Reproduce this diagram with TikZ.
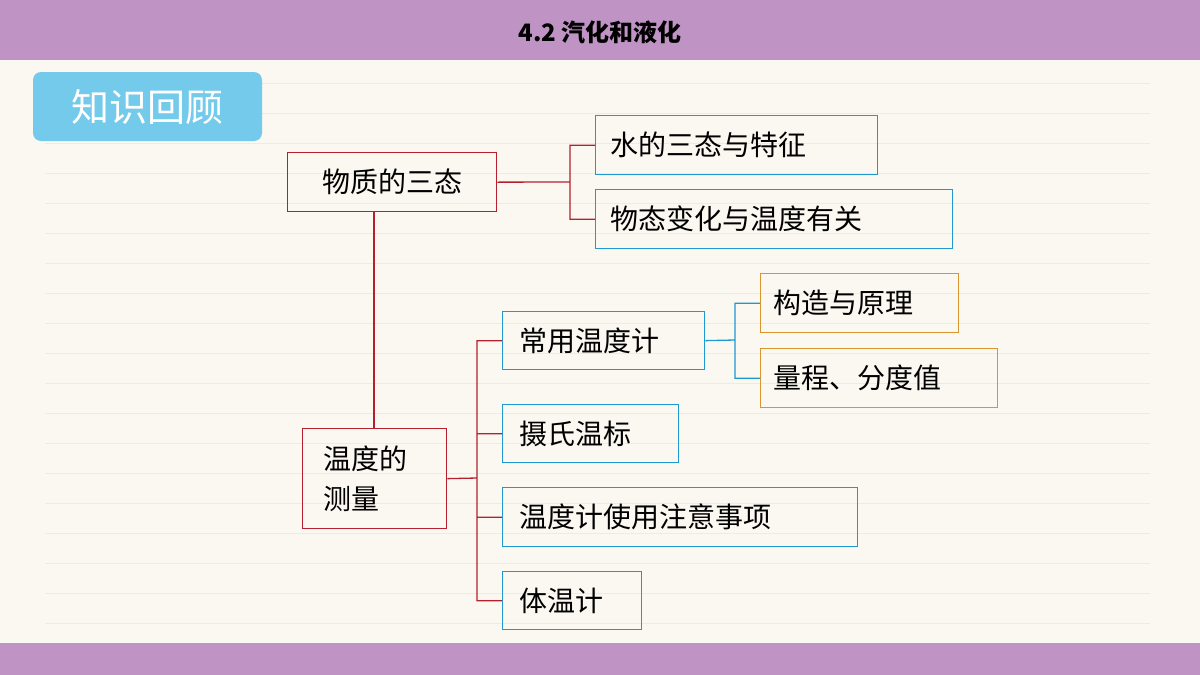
\documentclass[tikz,border=0pt]{standalone}
\usepackage{fontspec}
\newfontfamily\cjk{Noto Sans CJK SC}
\definecolor{bg}{HTML}{FBF8F1}
\definecolor{bar}{HTML}{C093C5}
\definecolor{rl}{HTML}{B5202E}
\definecolor{bl}{HTML}{1E9AD0}
\definecolor{ol}{HTML}{D9962E}
\definecolor{sky}{HTML}{74CAEA}
\tikzset{
 box/.style={draw,line width=1.3pt,inner sep=0pt,anchor=north west,font=\cjk\fontsize{28}{34}\selectfont,align=left},
 rbox/.style={box,draw=rl},
 bbox/.style={box,draw=bl},
 obox/.style={box,draw=ol},
}
\begin{document}
\begin{tikzpicture}[x=1pt,y=-1pt]
\useasboundingbox (0,0) rectangle (1200,675);
\fill[bg] (0,0) rectangle (1200,675);
\foreach \y in {83,113,...,633} \draw[black!8,line width=0.8pt] (45,\y) -- (1150,\y);
\fill[bar] (0,0) rectangle (1200,60);
\fill[bar] (0,643) rectangle (1200,675);
\node[font=\cjk\bfseries\fontsize{24}{28}\selectfont] (title) at (600,32) {4.2 汽化和液化};
\fill[sky,rounded corners=8pt] (33,72) rectangle (262,141);
\node[text=white,font=\cjk\fontsize{38}{44}\selectfont] (review) at (147.5,107) {知识回顾};
% nodes
\node[rbox,minimum width=209pt,minimum height=59pt] (a) at (287,152) {};
\node[font=\cjk\fontsize{28}{34}\selectfont] at (a.center) {物质的三态};
\node[bbox,minimum width=282pt,minimum height=59pt] (a1) at (595,115) {};
\node[font=\cjk\fontsize{28}{34}\selectfont,anchor=west] at ([xshift=12pt]a1.west) {水的三态与特征};
\node[bbox,minimum width=357pt,minimum height=59pt] (a2) at (595,189) {};
\node[font=\cjk\fontsize{28}{34}\selectfont,anchor=west] at ([xshift=12pt]a2.west) {物态变化与温度有关};
\node[rbox,minimum width=144pt,minimum height=100pt] (b) at (302,428) {};
\node[font=\cjk\fontsize{28}{40}\selectfont,align=left,anchor=west] at ([xshift=18pt]b.west) {温度的\\测量};
\node[bbox,minimum width=202pt,minimum height=58pt] (b1) at (502,311) {};
\node[font=\cjk\fontsize{28}{34}\selectfont,anchor=west] at ([xshift=14pt]b1.west) {常用温度计};
\node[bbox,minimum width=176pt,minimum height=58pt] (b2) at (502,404) {};
\node[font=\cjk\fontsize{28}{34}\selectfont,anchor=west] at ([xshift=14pt]b2.west) {摄氏温标};
\node[bbox,minimum width=355pt,minimum height=59pt] (b3) at (502,487) {};
\node[font=\cjk\fontsize{28}{34}\selectfont,anchor=west] at ([xshift=14pt]b3.west) {温度计使用注意事项};
\node[bbox,minimum width=139pt,minimum height=58pt] (b4) at (502,571) {};
\node[font=\cjk\fontsize{28}{34}\selectfont,anchor=west] at ([xshift=14pt]b4.west) {体温计};
\node[obox,minimum width=198pt,minimum height=59pt] (c1) at (760,273) {};
\node[font=\cjk\fontsize{28}{34}\selectfont,anchor=west] at ([xshift=10pt]c1.west) {构造与原理};
\node[obox,minimum width=237pt,minimum height=59pt] (c2) at (760,348) {};
\node[font=\cjk\fontsize{28}{34}\selectfont,anchor=west] at ([xshift=10pt]c2.west) {量程、分度值};
% connectors
\coordinate (ja) at (570,182);
\draw[rl,line width=1.3pt] (a.east) -- (ja) (a1.west) -| (ja) (a2.west) -| (ja);
\draw[rl,line width=1.3pt] (a.south -| 374,0) -- (b.north -| 374,0);
\coordinate (jb) at (477,478);
\draw[rl,line width=1.3pt] (b.east) -- (jb) (b1.west) -| (jb) (b4.west) -| (jb) (b2.west) -- (b2.west -| jb) (b3.west) -- (b3.west -| jb);
\coordinate (jc) at (735,340);
\draw[bl,line width=1.3pt] (b1.east) -- (jc) (c1.west) -| (jc) (c2.west) -| (jc);
\end{tikzpicture}
\end{document}
